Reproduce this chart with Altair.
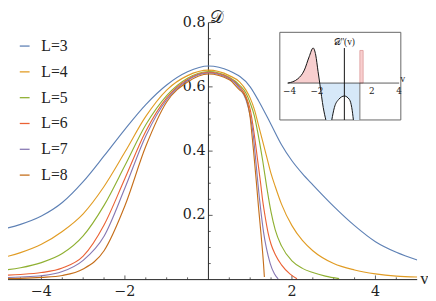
import altair as alt
import pandas as pd

# ---------------- main curves ----------------
labels = ["L=3", "L=4", "L=5", "L=6", "L=7", "L=8"]
colors = ["#5E81B5", "#E19C24", "#8FB032", "#EB6235", "#8778B3", "#C56E1A"]

L3_v = [-5, -4.5, -4, -3.5, -3, -2.5, -2, -1.5, -1, -0.5, 0, 0.5, 1.0, 1.2, 1.5, 1.75, 2.0, 2.25, 2.5, 3.0, 3.5, 4.0, 4.5, 5.0]
L3_d = [0.155, 0.172, 0.198, 0.24, 0.305, 0.385, 0.468, 0.545, 0.606, 0.647, 0.665, 0.65, 0.6, 0.557, 0.483, 0.42, 0.37, 0.33, 0.295, 0.228, 0.168, 0.118, 0.085, 0.061]

L4_v = [-5, -4.5, -4, -3.5, -3, -2.5, -2, -1.5, -1, -0.5, 0, 0.5, 0.75, 0.9, 1.0, 1.1, 1.2, 1.3, 1.4, 1.5, 1.6, 1.75, 2.0, 2.25, 2.5, 3.0, 3.5, 4.0, 4.5, 5.0]
L4_d = [0.066, 0.084, 0.11, 0.15, 0.205, 0.29, 0.397, 0.508, 0.59, 0.635, 0.652, 0.635, 0.615, 0.59, 0.565, 0.53, 0.48, 0.43, 0.38, 0.33, 0.29, 0.235, 0.168, 0.122, 0.09, 0.05, 0.03, 0.018, 0.011, 0.008]

L5_v = [-5, -4.5, -4, -3.5, -3, -2.5, -2, -1.5, -1, -0.5, 0, 0.5, 0.75, 0.9, 1.0, 1.1, 1.2, 1.3, 1.4, 1.5, 1.6, 1.75, 2.0, 2.25, 2.5, 2.8, 3.13]
L5_d = [0.028, 0.037, 0.053, 0.081, 0.136, 0.231, 0.355, 0.482, 0.573, 0.627, 0.648, 0.63, 0.605, 0.58, 0.55, 0.51, 0.445, 0.37, 0.285, 0.21, 0.155, 0.105, 0.058, 0.035, 0.022, 0.011, 0.003]

L6_v = [-5, -4.5, -4, -3.5, -3, -2.5, -2, -1.5, -1, -0.5, 0, 0.5, 0.75, 0.9, 1.0, 1.1, 1.18, 1.25, 1.3, 1.36, 1.43, 1.5, 1.6, 1.75, 1.95, 2.12]
L6_d = [0.013, 0.016, 0.022, 0.036, 0.073, 0.17, 0.315, 0.462, 0.566, 0.623, 0.645, 0.628, 0.6, 0.57, 0.53, 0.45, 0.37, 0.3, 0.245, 0.195, 0.145, 0.11, 0.078, 0.046, 0.018, 0.003]

L7_v = [-5, -4.5, -4, -3.5, -3, -2.5, -2, -1.5, -1, -0.5, 0, 0.5, 0.75, 0.9, 1.0, 1.07, 1.12, 1.17, 1.22, 1.27, 1.32, 1.39, 1.48, 1.58, 1.67]
L7_d = [0.006, 0.008, 0.012, 0.025, 0.06, 0.135, 0.285, 0.447, 0.56, 0.62, 0.643, 0.625, 0.595, 0.56, 0.51, 0.454, 0.39, 0.32, 0.255, 0.198, 0.148, 0.097, 0.05, 0.018, 0.002]

L8_v = [-5, -4.5, -4, -3.5, -3, -2.5, -2, -1.5, -1, -0.5, 0, 0.5, 0.75, 0.85, 0.94, 1.0, 1.04, 1.08, 1.15, 1.2, 1.25, 1.29, 1.32, 1.34]
L8_d = [0.003, 0.004, 0.007, 0.013, 0.033, 0.09, 0.23, 0.415, 0.553, 0.615, 0.64, 0.622, 0.59, 0.578, 0.548, 0.505, 0.454, 0.402, 0.301, 0.225, 0.155, 0.097, 0.048, 0.008]

series = [(L3_v, L3_d), (L4_v, L4_d), (L5_v, L5_d), (L6_v, L6_d), (L7_v, L7_d), (L8_v, L8_d)]

# axis ticks
x_major = [-4, -2, 2, 4]
x_minor = [-4.5, -3.5, -3, -2.5, -1.5, -1, -0.5, 0.5, 1, 1.5, 2.5, 3, 3.5, 4.5]
y_major = [0.2, 0.4, 0.6, 0.8]
y_minor = [0.05, 0.1, 0.15, 0.25, 0.3, 0.35, 0.45, 0.5, 0.55, 0.65, 0.7, 0.75]

# ---------------- inset D''(v) (arbitrary units) ----------------
ins_left_v = [-4.12, -3.40, -2.92, -2.57, -2.28, -2.09, -1.92, -1.78, -1.54, -1.35]
ins_left_d = [0.0, 0.12, 0.37, 0.75, 1.0, 0.8, 0.33, -0.05, -0.7, -1.053]
ins_mid_v = [-0.92, -0.73, -0.42, 0.0, 0.37, 0.54, 0.66]
ins_mid_d = [-1.053, -0.7, -0.47, -0.37, -0.47, -0.7, -1.053]
ins_pos_v = [-4.12, -3.40, -2.92, -2.57, -2.28, -2.09, -1.92, -1.85]
ins_pos_d = [0.0, 0.12, 0.37, 0.75, 1.0, 0.8, 0.33, 0.0]
ins_neg_v = [-1.85, -1.78, -1.54, -1.35, -0.92, -0.73, -0.42, 0.0, 0.37, 0.54, 0.66, 1.13]
ins_neg_d = [0.0, -0.05, -0.7, -1.053, -1.053, -0.7, -0.47, -0.37, -0.47, -0.7, -1.053, -1.053]
spike_v = [1.13, 1.37]
spike_top = 0.93
ins_ticks = [-4, -2, 2, 4]
ins_xdom = [-4.71, 4.12]
ins_ydom = [-1.053, 1.448]

# ---------------- build tables ----------------
rows = []
for lab, (vs, ds) in zip(labels, series):
    for v, d in zip(vs, ds):
        rows.append({"v": v, "D": d, "L": lab})
curves = pd.DataFrame(rows)

FONT = "DejaVu Serif"
YTOP = 0.837
xs = alt.Scale(domain=[-4.8, 5.0], nice=False, zero=False)
ys = alt.Scale(domain=[0, YTOP], nice=False, zero=False)

lines = alt.Chart(curves).mark_line(clip=True, strokeWidth=1.15, interpolate="monotone").encode(
    x=alt.X("v:Q", scale=xs, axis=None),
    y=alt.Y("D:Q", scale=ys, axis=None),
    color=alt.Color("L:N", scale=alt.Scale(domain=labels, range=colors),
                    legend=alt.Legend(title=None, orient="none", legendX=9, legendY=28,
                                      symbolType="stroke", symbolSize=100, symbolStrokeWidth=1.3,
                                      labelFont="Liberation Serif", labelFontSize=16, labelColor="#222",
                                      rowPadding=10.3, labelOffset=9, padding=0)),
    order="v:Q",
)

xaxis = alt.Chart(pd.DataFrame({"a": [-4.8], "b": [5.0], "y": [0]})).mark_rule(color="#222", strokeWidth=1).encode(
    x=alt.X("a:Q", scale=xs, axis=None), x2="b:Q", y=alt.Y("y:Q", scale=ys, axis=None))
yaxis = alt.Chart(pd.DataFrame({"x": [0], "a": [0], "b": [0.8]})).mark_rule(color="#222", strokeWidth=1).encode(
    x=alt.X("x:Q", scale=xs, axis=None), y=alt.Y("a:Q", scale=ys, axis=None), y2="b:Q")

xt = pd.DataFrame({"v": x_major + x_minor, "y": [0] * (len(x_major) + len(x_minor)),
                   "y2": [0.013] * len(x_major) + [0.007] * len(x_minor)})
xticks = alt.Chart(xt).mark_rule(color="#333", strokeWidth=0.8).encode(
    x=alt.X("v:Q", scale=xs, axis=None), y=alt.Y("y:Q", scale=ys, axis=None), y2="y2:Q")
yt = pd.DataFrame({"d": y_major + y_minor, "x": [0] * (len(y_major) + len(y_minor)),
                   "x2": [0.1] * len(y_major) + [0.055] * len(y_minor)})
yticks = alt.Chart(yt).mark_rule(color="#333", strokeWidth=0.8).encode(
    x=alt.X("x:Q", scale=xs, axis=None), x2="x2:Q", y=alt.Y("d:Q", scale=ys, axis=None))

xlab = pd.DataFrame({"v": x_major, "y": [0] * 4, "t": ["\u22124", "\u22122", "2", "4"]})
xlabels = alt.Chart(xlab).mark_text(font=FONT, fontSize=14.5, color="#222", baseline="top", dy=6).encode(
    x=alt.X("v:Q", scale=xs, axis=None), y=alt.Y("y:Q", scale=ys, axis=None), text="t:N")
ylab = pd.DataFrame({"d": y_major, "x": [0] * 4, "t": ["0.2", "0.4", "0.6", "0.8"]})
ylabels = alt.Chart(ylab).mark_text(font=FONT, fontSize=14.5, color="#222", align="right", baseline="middle", dx=-3).encode(
    x=alt.X("x:Q", scale=xs, axis=None), y=alt.Y("d:Q", scale=ys, axis=None), text="t:N")

vlab = alt.Chart(pd.DataFrame({"x": [5.0], "y": [0], "t": ["v"]})).mark_text(
    font="Liberation Serif", fontSize=17, color="#222", align="left", baseline="middle", dx=3, dy=-1).encode(
    x=alt.X("x:Q", scale=xs, axis=None), y=alt.Y("y:Q", scale=ys, axis=None), text="t:N")
dlab = alt.Chart(pd.DataFrame({"x": [0], "y": [YTOP], "t": ["\U0001D49F"]})).mark_text(
    fontSize=17, color="#222", align="left", baseline="top", dx=2, dy=0).encode(
    x=alt.X("x:Q", scale=xs, axis=None), y=alt.Y("y:Q", scale=ys, axis=None), text="t:N")

main = alt.layer(xaxis, yaxis, xticks, yticks, xlabels, ylabels, vlab, dlab, lines)

# ---------------- inset ----------------
xi = alt.Scale(domain=ins_xdom, range=[277, 400.3], nice=False, zero=False)
yi = alt.Scale(domain=ins_ydom, range=[111.3, 22], nice=False, zero=False)

box = alt.Chart(pd.DataFrame({"a": [ins_xdom[0]], "b": [ins_xdom[1]], "c": [ins_ydom[0]], "d": [ins_ydom[1]]})).mark_rect(
    fill="white", stroke="#666", strokeWidth=1).encode(
    x=alt.X("a:Q", scale=xi, axis=None), x2="b:Q", y=alt.Y("c:Q", scale=yi, axis=None), y2="d:Q")

pos = alt.Chart(pd.DataFrame({"iv": ins_pos_v, "id": ins_pos_d})).mark_area(
    color="#F8CFCF", interpolate="monotone").encode(
    x=alt.X("iv:Q", scale=xi, axis=None), y=alt.Y("id:Q", scale=yi, axis=None), y2=alt.datum(0))
neg = alt.Chart(pd.DataFrame({"iv": ins_neg_v, "id": ins_neg_d})).mark_area(
    color="#D6E8F8", interpolate="monotone").encode(
    x=alt.X("iv:Q", scale=xi, axis=None), y=alt.Y("id:Q", scale=yi, axis=None), y2=alt.datum(0))
spike = alt.Chart(pd.DataFrame({"a": [spike_v[0]], "b": [spike_v[1]], "c": [0], "d": [spike_top]})).mark_rect(
    fill="#F8CFCF", stroke="#D99", strokeWidth=0.8).encode(
    x=alt.X("a:Q", scale=xi, axis=None), x2="b:Q", y=alt.Y("c:Q", scale=yi, axis=None), y2="d:Q")
sep = alt.Chart(pd.DataFrame({"a": [spike_v[0]], "c": [ins_ydom[0]], "d": [0]})).mark_rule(
    color="#888", strokeWidth=1.2).encode(
    x=alt.X("a:Q", scale=xi, axis=None), y=alt.Y("c:Q", scale=yi, axis=None), y2="d:Q")

crv_rows = [{"iv": v, "id": d, "s": "a"} for v, d in zip(ins_left_v, ins_left_d)] + \
           [{"iv": v, "id": d, "s": "b"} for v, d in zip(ins_mid_v, ins_mid_d)]
crv = alt.Chart(pd.DataFrame(crv_rows)).mark_line(color="#111", strokeWidth=1, interpolate="monotone").encode(
    x=alt.X("iv:Q", scale=xi, axis=None), y=alt.Y("id:Q", scale=yi, axis=None), detail="s:N")

iax = alt.Chart(pd.DataFrame({"a": [-4.15], "b": [4.0], "y": [0]})).mark_rule(color="#333", strokeWidth=0.8).encode(
    x=alt.X("a:Q", scale=xi, axis=None), x2="b:Q", y=alt.Y("y:Q", scale=yi, axis=None))
iay = alt.Chart(pd.DataFrame({"x": [0], "a": [ins_ydom[0]], "b": [1.0]})).mark_rule(color="#111", strokeWidth=1).encode(
    x=alt.X("x:Q", scale=xi, axis=None), y=alt.Y("a:Q", scale=yi, axis=None), y2="b:Q")
itl = alt.Chart(pd.DataFrame({"iv": ins_ticks, "y": [0] * 4, "t": ["\u22124", "\u22122", "2", "4"]})).mark_text(
    font=FONT, fontSize=9, color="#222", baseline="top", dy=4).encode(
    x=alt.X("iv:Q", scale=xi, axis=None), y=alt.Y("y:Q", scale=yi, axis=None), text="t:N")
ivl = alt.Chart(pd.DataFrame({"iv": [4.0], "y": [0], "t": ["v"]})).mark_text(
    font="Liberation Serif", fontSize=10, color="#222", align="left", baseline="bottom", dx=1, dy=1).encode(
    x=alt.X("iv:Q", scale=xi, axis=None), y=alt.Y("y:Q", scale=yi, axis=None), text="t:N")
idl = alt.Chart(pd.DataFrame({"iv": [0], "y": [1.0], "t": ["\U0001D49F''(v)"]})).mark_text(
    font="Liberation Serif", fontSize=9.5, color="#222", baseline="bottom", dy=-1).encode(
    x=alt.X("iv:Q", scale=xi, axis=None), y=alt.Y("y:Q", scale=yi, axis=None), text="t:N")

inset = alt.layer(box, pos, neg, spike, sep, iax, crv, iay, itl, ivl, idl)

chart = alt.layer(main, inset).resolve_scale(x="independent", y="independent").properties(
    width=417, height=274, padding={"left": 0, "top": 0, "right": 11, "bottom": 19},
    autosize=alt.AutoSizeParams(type="none")
).configure_view(stroke=None).configure_legend(labelFont="Liberation Serif")

chart.save("out.html", embed_options={"renderer": "svg", "actions": False})
